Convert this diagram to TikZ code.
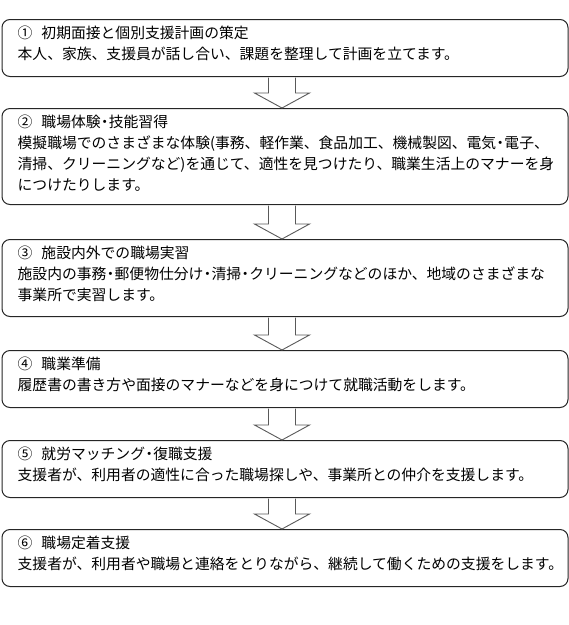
\documentclass[tikz,border=0pt]{standalone}
\usepackage{fontspec}
\newfontfamily\jpfont{Noto Sans CJK JP}
\usetikzlibrary{calc}
\newcommand\nkg{\makebox[0.55em][c]{・}}
\newcommand\stepno[1]{#1\hspace{9pt}}
\newcommand\flowarr[2]{%
  \draw[flowarrow] let \p1=(#1.south), \p2=(#2.north) in
    (\x1-16.5pt,\y1-0.6pt) -- (\x1-16.5pt,\y2+15pt) -- (\x1-30.5pt,\y2+15pt)
    -- (\x1-3pt,\y2) -- (\x1+24.5pt,\y2+15pt) -- (\x1+10.5pt,\y2+15pt)
    -- (\x1+10.5pt,\y1-0.6pt);}
\begin{document}
\begin{tikzpicture}[x=1pt,y=-1pt,
  stepbox/.style={draw=black!85, line width=1pt, rounded corners=8pt,
    minimum width=566pt, inner sep=0pt, anchor=north west, fill=white},
  flowarrow/.style={draw=black!65, line width=0.9pt, fill=white},
  txt/.style={font=\jpfont\fontsize{14.8}{21}\selectfont, anchor=base west,
    inner sep=0pt, text=black}]
\useasboundingbox (0,0) rectangle (569,625);
\fill[white] (0,0) rectangle (569,625);
% boxes
\node[stepbox, minimum height=57pt] (b1) at (1.5,19) {};
\node[stepbox, minimum height=96pt] (b2) at (1.5,108) {};
\node[stepbox, minimum height=77pt] (b3) at (1.5,239) {};
\node[stepbox, minimum height=57pt] (b4) at (1.5,350) {};
\node[stepbox, minimum height=57pt] (b5) at (1.5,440) {};
\node[stepbox, minimum height=57pt] (b6) at (1.5,529) {};
% texts
\node[txt] (t1a) at ($(b1.north west)+(16,19)$) {\stepno{①}初期面接と個別支援計画の策定};
\node[txt] (t1b) at ($(b1.north west)+(16,40)$) {本人、家族、支援員が話し合い、課題を整理して計画を立てます。};
\node[txt] (t2a) at ($(b2.north west)+(16,19)$) {\stepno{②}職場体験\nkg 技能習得};
\node[txt] (t2b) at ($(b2.north west)+(16,40)$) {模擬職場でのさまざまな体験(事務、軽作業、食品加工、機械製図、電気\nkg 電子、};
\node[txt] (t2c) at ($(b2.north west)+(16,61)$) {清掃、クリーニングなど)を通じて、適性を見つけたり、職業生活上のマナーを身};
\node[txt] (t2d) at ($(b2.north west)+(16,82)$) {につけたりします。};
\node[txt] (t3a) at ($(b3.north west)+(16,19)$) {\stepno{③}施設内外での職場実習};
\node[txt] (t3b) at ($(b3.north west)+(16,40)$) {施設内の事務\nkg 郵便物仕分け\nkg 清掃\nkg クリーニングなどのほか、地域のさまざまな};
\node[txt] (t3c) at ($(b3.north west)+(16,61)$) {事業所で実習します。};
\node[txt] (t4a) at ($(b4.north west)+(16,19)$) {\stepno{④}職業準備};
\node[txt] (t4b) at ($(b4.north west)+(16,40)$) {履歴書の書き方や面接のマナーなどを身につけて就職活動をします。};
\node[txt] (t5a) at ($(b5.north west)+(16,19)$) {\stepno{⑤}就労マッチング\nkg 復職支援};
\node[txt] (t5b) at ($(b5.north west)+(16,40)$) {支援者が、利用者の適性に合った職場探しや、事業所との仲介を支援します。};
\node[txt] (t6a) at ($(b6.north west)+(16,19)$) {\stepno{⑥}職場定着支援};
\node[txt] (t6b) at ($(b6.north west)+(16,40)$) {支援者が、利用者や職場と連絡をとりながら、継続して働くための支援をします。};
% arrows
\flowarr{b1}{b2}
\flowarr{b2}{b3}
\flowarr{b3}{b4}
\flowarr{b4}{b5}
\flowarr{b5}{b6}
\end{tikzpicture}
\end{document}
